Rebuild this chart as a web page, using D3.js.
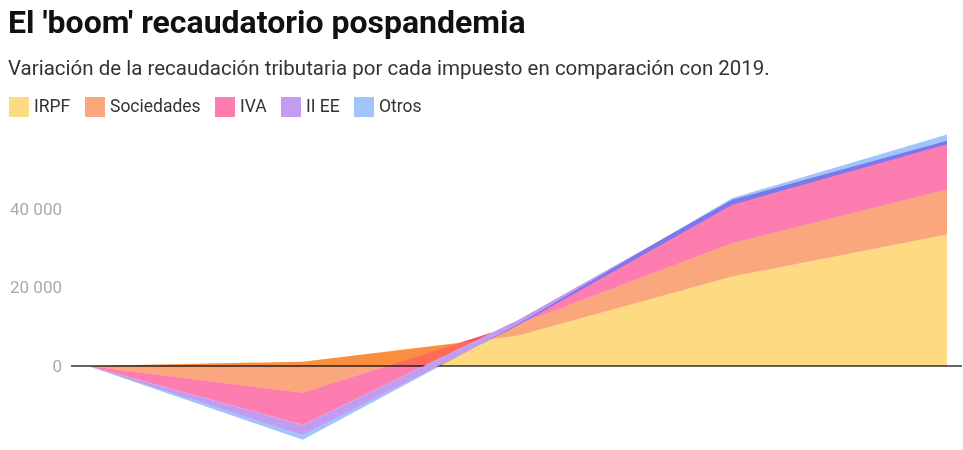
<!DOCTYPE html>
<html>
<head>
<meta charset="utf-8">
<script src="https://cdn.jsdelivr.net/npm/d3@7"></script>
<style>
  body { margin: 0; background: #fff; font-family: Roboto, "Noto Sans", sans-serif; }
  #chart { width: 963px; height: 450px; }
</style>
</head>
<body>
<div id="chart"></div>
<script>
// Datos (variación vs 2019, millones de euros)
const years = ["2019", "2020", "2021", "2022", "2023"];
const seriesNames = ["IRPF", "Sociedades", "IVA", "II EE", "Otros"];
const irpf = [0, 1100, 7700, 22800, 33500];
const sociedades = [0, -7900, 2900, 8500, 11500];
const iva = [0, -8200, 1000, 11000, 12300];
const iiee = [0, -2600, -1300, -1200, -800];
const otros = [0, -1200, 300, 1700, 2500];
const seriesColors = ["#fedb83", "#fba77d", "#fe7db0", "#c29cf1", "#9fc5fc"];
const yTicks = [0, 20000, 40000];

function renderChart() {
    const width = 963, height = 450;

    // Build rows for the stack
    const seriesValues = [irpf, sociedades, iva, iiee, otros];
    const rows = years.map((yr, i) => {
        const row = {year: yr};
        seriesNames.forEach((name, k) => { row[name] = seriesValues[k][i]; });
        return row;
    });

    const stack = d3.stack()
        .keys(seriesNames)
        .offset(d3.stackOffsetNone);
    const layers = stack(rows);

    const x = d3.scalePoint()
        .domain(years)
        .range([88, 947]);

    const y = d3.scaleLinear()
        .domain([-20000, 60000])
        .range([444.5, 130.5]);

    const color = d3.scaleOrdinal(seriesNames, seriesColors);

    const locale = d3.formatLocale({decimal: ",", thousands: " ", grouping: [3], currency: ["", "€"]});
    const fmt = locale.format(",d");

    const svg = d3.select("#chart").append("svg")
        .attr("width", width)
        .attr("height", height)
        .style("background", "#fff");

    // Title and subtitle
    svg.append("text")
        .attr("x", 8)
        .attr("y", 33)
        .attr("font-size", 32)
        .attr("font-weight", 700)
        .attr("fill", "#111")
        .text("El 'boom' recaudatorio pospandemia");

    svg.append("text")
        .attr("x", 8)
        .attr("y", 75)
        .attr("font-size", 20.5)
        .attr("fill", "#333")
        .text("Variación de la recaudación tributaria por cada impuesto en comparación con 2019.");

    // Legend
    const legendX = [9, 85, 215, 281, 354];
    const legend = svg.append("g")
        .selectAll("g")
        .data(seriesNames)
        .join("g")
        .attr("transform", (d, i) => `translate(${legendX[i]},97)`);
    legend.append("rect")
        .attr("width", 20)
        .attr("height", 20)
        .attr("fill", d => color(d));
    legend.append("text")
        .attr("x", 25)
        .attr("y", 15)
        .attr("font-size", 17.5)
        .attr("fill", "#333")
        .text(d => d);

    // Y axis labels (no gridlines)
    const yAxis = d3.axisLeft(y)
        .tickValues(yTicks)
        .tickFormat(fmt)
        .tickSize(0)
        .tickPadding(0);
    const gy = svg.append("g")
        .attr("transform", "translate(62,0)")
        .call(yAxis);
    gy.select(".domain").remove();
    gy.selectAll("text")
        .attr("font-size", 17)
        .attr("font-family", "Roboto, sans-serif")
        .attr("fill", "#aaa");

    // Zero baseline (under the blended areas)
    svg.append("line")
        .attr("x1", 71)
        .attr("x2", 962)
        .attr("y1", y(0))
        .attr("y2", y(0))
        .attr("stroke", "#333")
        .attr("stroke-width", 1.5);

    // Areas
    const area = d3.area()
        .x(d => x(d.data.year))
        .y0(d => y(d[0]))
        .y1(d => y(d[1]));

    svg.append("g")
        .selectAll("path")
        .data(layers)
        .join("path")
        .attr("fill", d => color(d.key))
        .style("mix-blend-mode", d => d.key === "II EE" ? "normal" : "multiply")
        .attr("d", area);
}

renderChart();
</script>
</body>
</html>
